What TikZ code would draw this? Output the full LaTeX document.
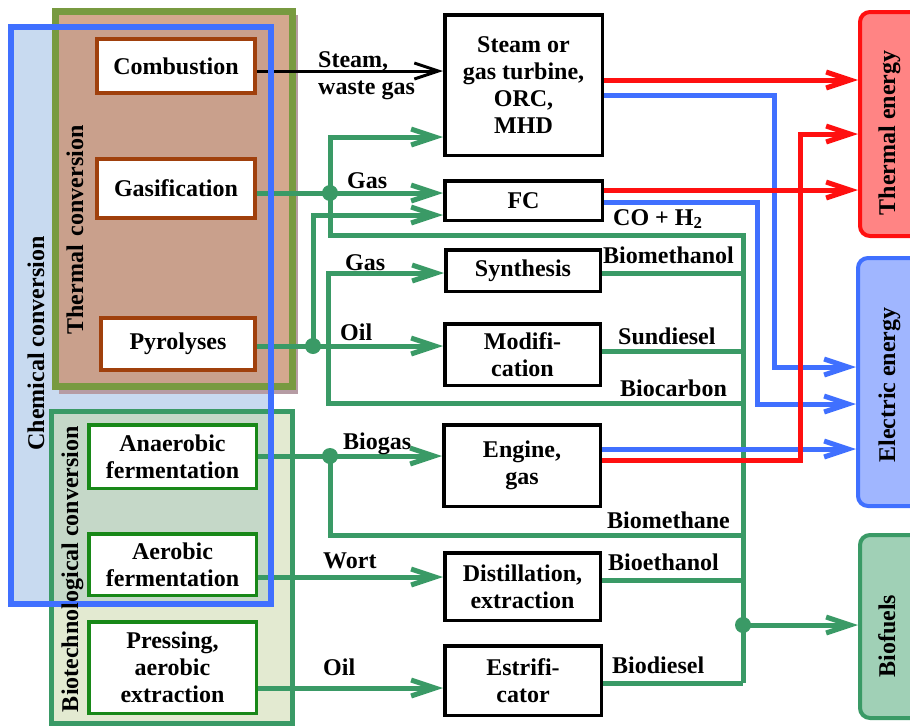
\documentclass[tikz,border=0pt]{standalone}
\usepackage{fontspec}
\setmainfont{Liberation Serif}
\usetikzlibrary{arrows.meta}
\definecolor{grn}{RGB}{58,154,102}
\definecolor{dgrn}{RGB}{24,136,24}
\definecolor{brn}{RGB}{160,64,12}
\definecolor{olive}{RGB}{120,154,64}
\definecolor{blu}{RGB}{64,112,255}
\definecolor{redd}{RGB}{255,16,16}
\definecolor{chemfill}{RGB}{200,218,240}
\definecolor{thfill}{RGB}{212,168,142}
\definecolor{thfillin}{RGB}{201,160,140}
\definecolor{biofill}{RGB}{227,234,209}
\definecolor{biofillin}{RGB}{197,216,200}
\definecolor{shadow}{RGB}{182,156,164}
\definecolor{thermfill}{RGB}{255,132,132}
\definecolor{elecfill}{RGB}{160,182,255}
\definecolor{biofuelfill}{RGB}{160,208,182}
\tikzset{
  pbox/.style={draw=brn, line width=4pt, fill=white, inner sep=0pt, align=center},
  gbox/.style={draw=dgrn, line width=3.5pt, fill=white, inner sep=0pt, align=center},
  kbox/.style={draw=black, line width=3.5pt, fill=white, inner sep=0pt, align=center},
  ebox/.style={rounded corners=10pt, line width=4pt, minimum width=70pt, inner sep=0pt},
  tip/.style={-{Straight Barb[length=24pt,width=16pt]}},
  gl/.style={draw=grn, line width=5pt},
  gla/.style={gl, tip},
  rla/.style={draw=redd, line width=5pt, tip},
  bla/.style={draw=blu, line width=5pt, tip},
  kla/.style={draw=black, line width=3pt, tip},
  lbl/.style={inner sep=0pt, anchor=base west},
  vlbl/.style={inner sep=0pt, anchor=base, rotate=90},
  jdot/.style={circle, fill=grn, inner sep=0pt, minimum size=16pt},
}
\begin{document}
\begin{tikzpicture}[x=1pt,y=-1pt,font=\fontsize{24}{27}\selectfont\bfseries]
\useasboundingbox (0,0) rectangle (910,726);
% background groups
\fill[chemfill] (11,27) rectangle (271,604);
\fill[shadow] (59,15) rectangle (298,394);
\fill[thfill] (55,11) rectangle (292,386);
\fill[thfillin] (55,27) rectangle (271,386);
\fill[biofill] (51,411) rectangle (292,723);
\fill[biofillin] (51,411) rectangle (271,604);
\draw[olive, line width=7pt] (55,11) rectangle (292,386);
\draw[grn, line width=5pt] (51,411) rectangle (292,723);
% left process boxes
\node[pbox, minimum width=158pt, minimum height=54pt] (comb) at (176,66) {Combustion};
\node[pbox, minimum width=158pt, minimum height=59pt] (gas) at (176,188.5) {Gasification};
\node[pbox, minimum width=154pt, minimum height=52pt] (pyro) at (178,344) {Pyrolyses};
\node[gbox, minimum width=167.5pt, minimum height=63.5pt] (anaer) at (172.5,456.5) {Anaerobic\\fermentation};
\node[gbox, minimum width=167.5pt, minimum height=61.5pt] (aerob) at (172.5,564.5) {Aerobic\\fermentation};
\node[gbox, minimum width=167.5pt, minimum height=91.5pt] (press) at (172.5,667.5) {Pressing,\\aerobic\\extraction};
% middle boxes
\node[kbox, minimum width=157.5pt, minimum height=140.5pt] (steam) at (523.5,85) {Steam or\\gas turbine,\\ORC,\\MHD};
\node[kbox, minimum width=157.5pt, minimum height=39.5pt] (fc) at (523.5,200.5) {FC};
\node[kbox, minimum width=154.5pt, minimum height=41.5pt] (synth) at (523,270.5) {Synthesis};
\node[kbox, minimum width=155.5pt, minimum height=61.5pt] (modif) at (522.5,354.5) {Modifi-\\cation};
\node[kbox, minimum width=156.5pt, minimum height=81.5pt] (engine) at (522,465.5) {Engine,\\gas};
\node[kbox, minimum width=155.5pt, minimum height=67.5pt] (distil) at (522.5,586.5) {Distillation,\\extraction};
\node[kbox, minimum width=156.5pt, minimum height=69.5pt] (estr) at (523,680.5) {Estrifi-\\cator};
% right boxes
\node[ebox, draw=redd, fill=thermfill, minimum height=224pt] (therm) at (895,124) {};
\node[ebox, draw=blu, fill=elecfill, minimum height=248pt] (elec) at (893,382) {};
\node[ebox, draw=grn, fill=biofuelfill, minimum height=183pt] (biof) at (895,626.5) {};
% coordinates
\coordinate (jg) at (330,193);
\coordinate (jp) at (313,346);
\coordinate (jp2) at (328,346);
\coordinate (ja) at (330,456);
\coordinate (cT) at (743,235);
\coordinate (cB) at (743,683);
\coordinate (jb) at (743,625);
\coordinate (b1) at (774,367);
\coordinate (b2) at (757,404);
\coordinate (r3) at (800,134);
% black connector
\draw[kla] (comb.east |- 0,71) -- (steam.west |- 0,71);
% green connectors
\draw[gl] (gas.east |- jg) -- (jg);
\draw[gla] (jg) -- (fc.west |- jg);
\draw[gla] (jg) |- (steam.west |- 0,137);
\draw[gl] (jg) |- (cT) -- (cB);
\draw[gl] (pyro.east |- jp) -- (jp);
\draw[gla] (jp) -- (modif.west |- jp);
\draw[gla] (jp) |- (fc.west |- 0,215);
\draw[gla] (jp2) |- (synth.west |- 0,273);
\draw[gl] (jp2) |- (cT |- 0,403);
\draw[gl] (anaer.east |- ja) -- (ja);
\draw[gla] (ja) -- (engine.west |- ja);
\draw[gl] (ja) |- (cT |- 0,535);
\draw[gla] (aerob.east |- 0,577) -- (distil.west |- 0,577);
\draw[gla] (press.east |- 0,688) -- (estr.west |- 0,688);
\draw[gl] (synth.east |- 0,273) -- (cT |- 0,273);
\draw[gl] (modif.east |- 0,351) -- (cT |- 0,351);
\draw[gl] (distil.east |- 0,580) -- (cT |- 0,580);
\draw[gl] (estr.east |- cB) -- (cB);
\draw[gla] (jb) -- (biof.west |- jb);
\node[jdot] (djg) at (jg) {};
\node[jdot] (djp) at (jp) {};
\node[jdot] (dja) at (ja) {};
\node[jdot] (djb) at (jb) {};
% blue connectors
\draw[bla] (steam.east |- 0,95) -| (b1) -- (elec.west |- b1);
\draw[bla] (fc.east |- 0,202) -| (b2) -- (elec.west |- b2);
\draw[bla] (engine.east |- 0,449) -- (elec.west |- 0,449);
% red connectors
\draw[rla] (steam.east |- 0,80) -- (therm.west |- 0,80);
\draw[rla] (fc.east |- 0,190) -- (therm.west |- 0,190);
\draw[rla] (engine.east |- 0,460) -| (r3) -- (therm.west |- r3);
% chemical conversion border
\draw[blu, line width=6pt] (11,27) rectangle (271,604);
% rotated labels
\node[vlbl] (tchem) at (44,343.5) {Chemical conversion};
\node[vlbl] (ttherm) at (83,230) {Thermal\hspace{9pt}conversion};
\node[vlbl] (tbio) at (78,569) {Biotechnological conversion};
\node[vlbl] (ttherme) at (895,133) {Thermal energy};
\node[vlbl] (telec) at (895,385) {Electric energy};
\node[vlbl] (tbiof) at (895,636) {Biofuels};
% line labels
\node[inner sep=0pt, anchor=north west, align=left] (lsteam) at (318,51) {Steam,\\waste gas};
\node[lbl] (lgas1) at (347,188) {Gas};
\node[lbl] (lco) at (613,225) {CO + H\textsubscript{2}};
\node[lbl] (lgas2) at (345,270) {Gas};
\node[lbl] (lbmol) at (603,263) {Biomethanol};
\node[lbl] (loil1) at (340,340) {Oil};
\node[lbl] (lsund) at (618,344) {Sundiesel};
\node[lbl] (lbcar) at (620,396) {Biocarbon};
\node[lbl] (lbgas) at (343,449) {Biogas};
\node[lbl] (lbme) at (607,528) {Biomethane};
\node[lbl] (lwort) at (323,568) {Wort};
\node[lbl] (lbeth) at (608,570) {Bioethanol};
\node[lbl] (loil2) at (323,675) {Oil};
\node[lbl] (lbdie) at (612,673) {Biodiesel};
\end{tikzpicture}
\end{document}
